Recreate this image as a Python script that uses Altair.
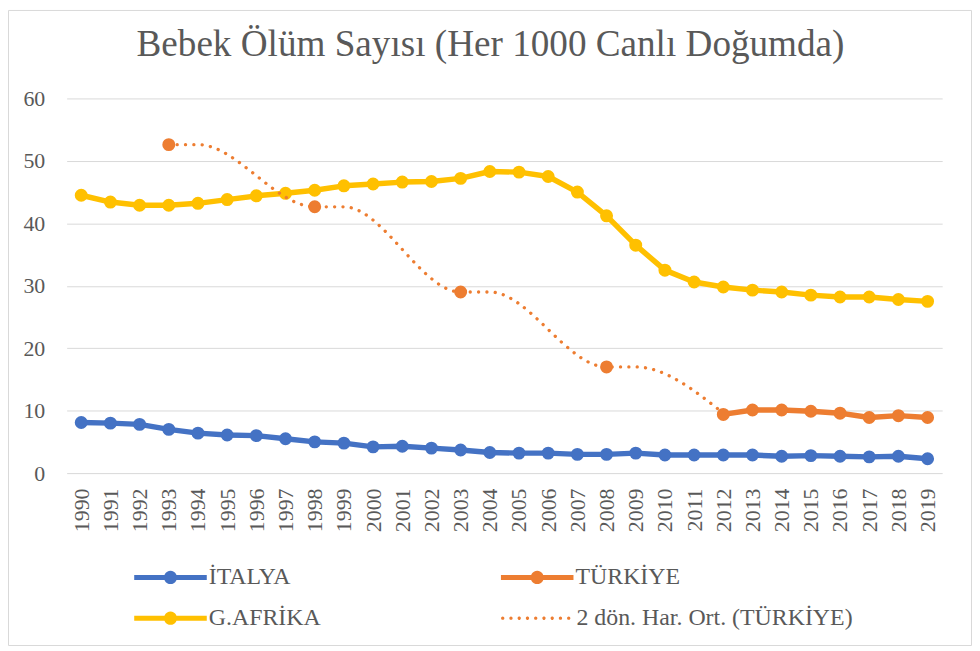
import altair as alt
import pandas as pd

# ---------------- data ----------------
years = list(range(1990, 2020))
italya = [8.1, 8.0, 7.8, 7.0, 6.4, 6.1, 6.0, 5.5, 5.0, 4.8, 4.2, 4.3, 4.0, 3.7, 3.3,
          3.2, 3.2, 3.0, 3.0, 3.2, 2.9, 2.9, 2.9, 2.9, 2.7, 2.8, 2.7, 2.6, 2.7, 2.3]
afrika = [44.5, 43.4, 42.9, 42.9, 43.2, 43.8, 44.4, 44.8, 45.3, 46.0, 46.3, 46.6, 46.7, 47.2, 48.3,
          48.2, 47.5, 45.0, 41.2, 36.5, 32.5, 30.6, 29.8, 29.3, 29.0, 28.5, 28.2, 28.2, 27.8, 27.5]
tr_years = [1993, 1998, 2003, 2008, 2012, 2013, 2014, 2015, 2016, 2017, 2018, 2019]
tr_values = [52.6, 42.65, 29.0, 17.0, 9.4, 10.1, 10.1, 9.9, 9.6, 8.9, 9.2, 8.9]
ma_years = [1993, 1994, 1998, 1999, 2003, 2004, 2008, 2009, 2012]
ma_values = [52.6, 52.6, 42.65, 42.65, 29.0, 29.0, 17.0, 17.0, 9.6]
series_names = ["İTALYA", "TÜRKİYE", "G.AFRİKA"]
ma_name = "2 dön. Har. Ort. (TÜRKİYE)"
colors = ["#4472C4", "#ED7D31", "#FFC000"]
y_ticks = [0, 10, 20, 30, 40, 50, 60]
title_text = "Bebek Ölüm Sayısı (Her 1000 Canlı Doğumda)"

# ---------------- tables ----------------
rows = []
for y, v in zip(years, italya):
    rows.append({"year": y, "value": v, "series": "İTALYA", "seg": "it"})
seg, prev = 0, None
for y, v in zip(tr_years, tr_values):
    if prev is not None and y - prev > 1:
        seg += 1
    rows.append({"year": y, "value": v, "series": "TÜRKİYE", "seg": f"tr{seg}"})
    prev = y
for y, v in zip(years, afrika):
    rows.append({"year": y, "value": v, "series": "G.AFRİKA", "seg": "za"})
df = pd.DataFrame(rows)
ma_df = pd.DataFrame({"year": ma_years, "value": ma_values, "label": [ma_name] * len(ma_years)})

# ---------------- style ----------------
FONT = "Liberation Serif"
TXT = "#595959"
GRID = "#D9D9D9"
LEG_FS = 24

# legend symbol: line with a circle (units scaled by sqrt(size)/2 = 7px, centre at 7px)
s = 7.0
def u(px):
    return (px - 7.0) / s
bar_h = 2.5 / s
cx, r = u(36.5), 6.5 / s
line_marker_path = (
    f"M{u(0):.3f},{-bar_h:.3f}L{u(73):.3f},{-bar_h:.3f}L{u(73):.3f},{bar_h:.3f}L{u(0):.3f},{bar_h:.3f}Z"
    f"M{cx - r:.3f},0A{r:.3f},{r:.3f} 0 1,1 {cx + r:.3f},0A{r:.3f},{r:.3f} 0 1,1 {cx - r:.3f},0Z"
)
dr = 1.65 / s
dot_parts = []
for k in range(9):
    dcx = u(1.8 + 8.3 * k)
    dot_parts.append(f"M{dcx - dr:.3f},0A{dr:.3f},{dr:.3f} 0 1,1 {dcx + dr:.3f},0A{dr:.3f},{dr:.3f} 0 1,1 {dcx - dr:.3f},0Z")
dots_path = "".join(dot_parts)

x_axis = alt.Axis(labelAngle=-90, domain=False, ticks=False, grid=False, labelPadding=15,
                  labelFont=FONT, labelFontSize=22, labelColor=TXT, title=None)
y_axis = alt.Axis(values=y_ticks, grid=True, gridColor=GRID, gridWidth=1, domain=False, ticks=False,
                  labelFont=FONT, labelFontSize=22, labelColor=TXT, labelPadding=22, title=None)

x_enc = alt.X("year:O", scale=alt.Scale(domain=years), axis=x_axis)
y_enc = alt.Y("value:Q", scale=alt.Scale(domain=[0, 60], nice=False, zero=True), axis=y_axis)

frame = alt.Chart(pd.DataFrame({"k": [0]})).mark_rect(
    fillOpacity=0, stroke=GRID, strokeWidth=1
).encode(x=alt.value(-58.5), x2=alt.value(910.5), y=alt.value(-88.5), y2=alt.value(550.5))

line_layers = []
for name, col in zip(series_names, colors):
    line_layers.append(
        alt.Chart(df).transform_filter(alt.datum.series == name)
        .mark_line(strokeWidth=5.5, strokeJoin="round", strokeCap="round", color=col)
        .encode(x=x_enc, y=y_enc, detail="seg:N")
    )

points = alt.Chart(df).mark_circle(size=170, opacity=1).encode(
    x=x_enc, y=y_enc,
    color=alt.Color("series:N", scale=alt.Scale(domain=series_names, range=colors), legend=alt.Legend(
        orient="none", legendX=63, legendY=470, columns=2, direction="horizontal", title=None,
        symbolType=line_marker_path, symbolSize=196, symbolStrokeWidth=0,
        labelOffset=56, labelFont=FONT, labelFontSize=LEG_FS, labelColor=TXT,
        columnPadding=176, rowPadding=17, padding=0, labelLimit=0,
    )),
)

ma = alt.Chart(ma_df).mark_line(color="#ED7D31", strokeWidth=3.3, strokeCap="round",
                                interpolate="monotone").encode(
    x=x_enc, y=y_enc,
    strokeDash=alt.StrokeDash("label:N", scale=alt.Scale(domain=[ma_name], range=[[0.1, 8.3]]),
                              legend=alt.Legend(
                                  orient="none", legendX=432, legendY=511, title=None,
                                  symbolType=dots_path, symbolSize=196,
                                  symbolFillColor="#ED7D31", symbolStrokeWidth=0,
                                  labelOffset=57, labelFont=FONT, labelFontSize=LEG_FS,
                                  labelColor=TXT, padding=0, labelLimit=0,
                              )),
)

chart = alt.layer(frame, *line_layers, points, ma).properties(
    width=881, height=377,
    title=alt.TitleParams(title_text, font=FONT, fontSize=37.4, fontWeight="normal", color=TXT,
                          anchor="middle", frame="group", baseline="alphabetic", offset=-84, dx=-14),
    autosize=alt.AutoSizeParams(type="none"),
    padding={"left": 59, "top": 89, "right": 30, "bottom": 174},
    background="white",
).configure_view(stroke=None)

chart.save("out.html", embed_options={"renderer": "svg", "actions": False})
